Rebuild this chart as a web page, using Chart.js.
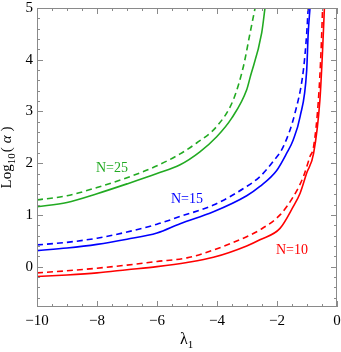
<!DOCTYPE html>
<html>
<head>
<meta charset="utf-8">
<script src="https://cdn.jsdelivr.net/npm/chart.js@4.4.1/dist/chart.umd.min.js"></script>
<style>
  html, body { margin: 0; padding: 0; background: #fff; }
  .wrap { width: 341px; height: 352px; position: relative; }
</style>
</head>
<body>
<div class="wrap"><canvas id="chart"></canvas></div>
<script>
// curves: lambda_1 (x) and log10(alpha) (y)
const n25SolidX = [-10, -9, -8, -7, -6, -5.23, -4.57, -4.01, -3.51, -3.01, -2.9, -2.51, -2.4];
const n25SolidY = [1.16, 1.24, 1.41, 1.60, 1.80, 1.97, 2.22, 2.51, 2.87, 3.42, 3.65, 4.52, 5.0];
const n25DashX = [-10, -9, -8, -7, -6, -5.23, -4.68, -4.01, -3.46, -3.12, -2.9, -2.73];
const n25DashY = [1.29, 1.37, 1.53, 1.72, 1.95, 2.18, 2.39, 2.71, 3.22, 3.87, 4.51, 5.0];

const n15SolidX = [-10, -9, -8, -7, -6, -5.23, -4.12, -3.01, -2.57, -2.01, -1.68, -1.46, -1.23, -1.01, -0.96, -0.9];
const n15SolidY = [0.31, 0.36, 0.43, 0.53, 0.65, 0.83, 1.06, 1.37, 1.55, 1.86, 2.19, 2.45, 2.9, 3.8, 4.51, 5.0];
const n15DashX = [-10, -9, -8, -7, -6, -5.23, -4.12, -3.01, -2.57, -2.12, -1.79, -1.4, -1.12, -1.01, -0.96];
const n15DashY = [0.42, 0.47, 0.55, 0.67, 0.82, 0.97, 1.19, 1.55, 1.74, 2.04, 2.32, 2.97, 3.8, 4.51, 5.0];

const n10SolidX = [-10, -9, -8, -7, -6, -5, -4.12, -3.01, -2.57, -1.9, -1.46, -1.23, -1.01, -0.78, -0.57, -0.48, -0.42];
const n10SolidY = [-0.19, -0.16, -0.12, -0.06, 0.0, 0.08, 0.18, 0.40, 0.52, 0.74, 1.16, 1.42, 1.81, 2.19, 3.22, 4.19, 5.0];
const n10DashX = [-10, -9, -8, -7, -6, -5, -4.12, -3.01, -2.57, -1.9, -1.46, -1.12, -0.9, -0.78, -0.62, -0.53, -0.48];
const n10DashY = [-0.12, -0.08, -0.03, 0.03, 0.10, 0.17, 0.32, 0.58, 0.71, 1.0, 1.35, 1.74, 2.13, 2.32, 3.22, 4.19, 5.0];

const curveLabels = [
  { text: 'N=25', x: -7.5, y: 1.91, color: '#22aa22' },
  { text: 'N=15', x: -5.0, y: 1.31, color: '#0000ff' },
  { text: 'N=10', x: -1.5, y: 0.32, color: '#ff0000' }
];

const xMin = -10, xMax = 0, yMin = -0.78, yMax = 5;

function pts(xs, ys) {
  return xs.map((x, i) => ({ x: x, y: ys[i] }));
}

function curve(xs, ys, color, dashed) {
  return {
    data: pts(xs, ys),
    showLine: true,
    borderColor: color,
    borderWidth: 1.6,
    borderDash: dashed ? [6, 4] : [],
    pointRadius: 0,
    cubicInterpolationMode: 'monotone',
    fill: false
  };
}

const serif = "'Liberation Serif', 'DejaVu Serif', serif";

// frame with inward ticks on all four sides, curve labels and axis titles
const framePlugin = {
  id: 'frame',
  afterDraw(chart) {
    const ctx = chart.ctx;
    const a = chart.chartArea;
    const xs = chart.scales.x, ys = chart.scales.y;
    ctx.save();
    ctx.strokeStyle = '#8a8a8a';
    ctx.lineWidth = 1;
    ctx.strokeRect(a.left + 0.5, a.top + 0.5, a.right - a.left - 1, a.bottom - a.top - 1);

    ctx.beginPath();
    for (let v = -10; v <= 0.001; v += 0.5) {
      const px = Math.round(xs.getPixelForValue(v)) + 0.5;
      const len = Math.abs(v / 2 - Math.round(v / 2)) < 1e-6 ? 6 : 3;
      ctx.moveTo(px, a.bottom); ctx.lineTo(px, a.bottom - len);
      ctx.moveTo(px, a.top); ctx.lineTo(px, a.top + len);
    }
    for (let k = -3; k <= 25; k++) {
      const v = k * 0.2;
      const py = Math.round(ys.getPixelForValue(v)) + 0.5;
      const len = k % 5 === 0 ? 6 : 3;
      ctx.moveTo(a.left, py); ctx.lineTo(a.left + len, py);
      ctx.moveTo(a.right, py); ctx.lineTo(a.right - len, py);
    }
    ctx.stroke();

    ctx.font = '14px ' + serif;
    ctx.textAlign = 'center';
    ctx.textBaseline = 'middle';
    curveLabels.forEach(l => {
      ctx.fillStyle = l.color;
      ctx.fillText(l.text, xs.getPixelForValue(l.x), ys.getPixelForValue(l.y));
    });

    // x title: lambda with subscript 1
    ctx.fillStyle = '#000';
    ctx.textAlign = 'left';
    ctx.textBaseline = 'alphabetic';
    const cx = (a.left + a.right) / 2;
    ctx.font = '16px ' + serif;
    const lw = ctx.measureText('λ').width;
    ctx.fillText('λ', cx - 7, 344);
    ctx.font = '11px ' + serif;
    ctx.fillText('1', cx - 7 + lw, 348);

    // y title: Log10( alpha ), rotated
    ctx.translate(11, (a.top + a.bottom) / 2);
    ctx.rotate(-Math.PI / 2);
    const parts = [
      { t: 'Log', f: '15px ' + serif, dy: 0, gap: 0 },
      { t: '10', f: '11px ' + serif, dy: 4, gap: 1 },
      { t: '(', f: '15px ' + serif, dy: 0, gap: 4 },
      { t: 'α', f: 'italic 15px ' + serif, dy: 0, gap: 4 },
      { t: ')', f: '15px ' + serif, dy: 0, gap: 0 }
    ];
    let total = 0;
    parts.forEach(p => { ctx.font = p.f; p.w = ctx.measureText(p.t).width; total += p.w + p.gap; });
    let px = -total / 2;
    parts.forEach(p => {
      ctx.font = p.f;
      ctx.fillText(p.t, px, 0 + p.dy);
      px += p.w + p.gap;
    });
    ctx.restore();
  }
};

new Chart(document.getElementById('chart').getContext('2d'), {
  type: 'scatter',
  data: {
    datasets: [
      curve(n25SolidX, n25SolidY, '#22aa22', false),
      curve(n25DashX, n25DashY, '#22aa22', true),
      curve(n15SolidX, n15SolidY, '#0000ff', false),
      curve(n15DashX, n15DashY, '#0000ff', true),
      curve(n10SolidX, n10SolidY, '#ff0000', false),
      curve(n10DashX, n10DashY, '#ff0000', true)
    ]
  },
  plugins: [framePlugin],
  options: {
    responsive: true,
    maintainAspectRatio: false,
    animation: false,
    layout: { padding: { top: 8, right: 4, left: 0, bottom: 0 } },
    plugins: { legend: { display: false }, tooltip: { enabled: false } },
    scales: {
      x: {
        type: 'linear', min: xMin, max: xMax,
        grid: { display: false, drawTicks: false }, border: { display: false },
        afterFit(s) { s.height = 45; s.paddingLeft = 0; s.paddingRight = 0; },
        ticks: {
          stepSize: 2, padding: 5, color: '#000',
          font: { family: serif, size: 15 },
          callback: v => v < 0 ? '\u2212' + Math.abs(v) : String(v)
        }
      },
      y: {
        type: 'linear', min: yMin, max: yMax,
        grid: { display: false, drawTicks: false }, border: { display: false },
        afterFit(s) { s.width = 37; s.paddingTop = 0; s.paddingBottom = 0; },
        ticks: {
          stepSize: 1, padding: 4, color: '#000',
          font: { family: serif, size: 15 },
          callback: v => Math.abs(v - Math.round(v)) < 1e-6 ? String(Math.round(v)) : ''
        }
      }
    }
  }
});
</script>
</body>
</html>
